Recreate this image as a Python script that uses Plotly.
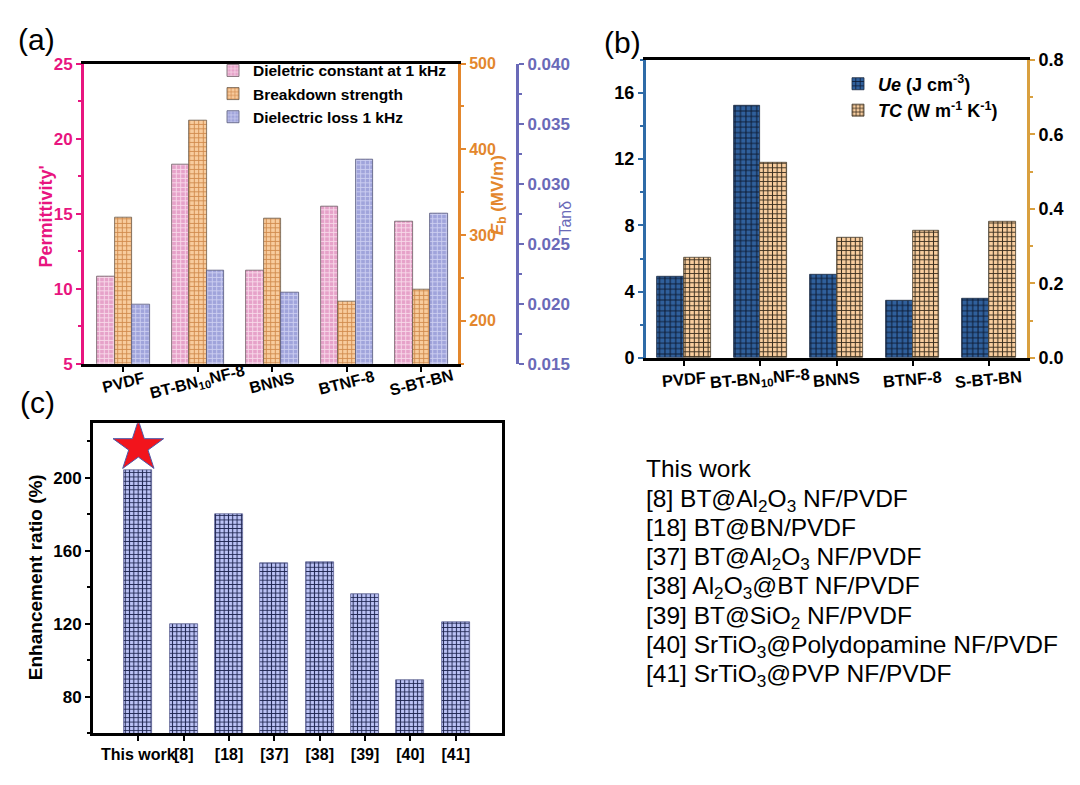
import plotly.graph_objects as go

# ---------------- data ----------------
cats_ab = ["PVDF", "BT-BN<sub>10</sub>NF-8", "BNNS", "BTNF-8", "S-BT-BN"]
permittivity = [10.8, 18.3, 11.2, 15.5, 14.5]
breakdown = [320, 433, 319, 223, 236]
tan_delta = [0.0199, 0.0228, 0.0209, 0.0320, 0.0275]
ue = [4.9, 15.2, 5.05, 3.45, 3.6]
tc = [0.270, 0.525, 0.322, 0.341, 0.366]
cats_c = ["This work", "[8]", "[18]", "[37]", "[38]", "[39]", "[40]", "[41]"]
ratio = [204, 120, 180, 153, 154, 136, 89, 121]
star_cat = ["This work"]
star_val = [217]
refs = [
    "This work",
    "[8] BT@Al<sub>2</sub>O<sub>3</sub> NF/PVDF",
    "[18] BT@BN/PVDF",
    "[37] BT@Al<sub>2</sub>O<sub>3</sub> NF/PVDF",
    "[38] Al<sub>2</sub>O<sub>3</sub>@BT NF/PVDF",
    "[39] BT@SiO<sub>2</sub> NF/PVDF",
    "[40] SrTiO<sub>3</sub>@Polydopamine NF/PVDF",
    "[41] SrTiO<sub>3</sub>@PVP NF/PVDF",
]

W, H = 1080, 785
FONT = "Arial, Liberation Sans, sans-serif"
MAG = "#E8157F"
ORA = "#E3872D"
PUR = "#6A6AB8"
BLU = "#2F6BA7"
ORB = "#D9A03F"


def px(x):
    return x / W


def py(y):
    return 1 - y / H


def bfont(size, color="black"):
    return dict(family=FONT, size=size, color=color, weight="bold")


def pat(bg, fg, size, lw=1.0):
    sol = 1 - (1 - lw / size) ** 2
    return dict(shape="+", bgcolor=bg, fgcolor=fg, size=size, solidity=sol, fillmode="replace")


fig = go.Figure()

# ---------------- panel (a) ----------------
wa = 0.7 / 3
fig.add_trace(go.Bar(x=cats_ab, y=permittivity, xaxis="x", yaxis="y", width=wa, offset=-0.35,
                     name="Dieletric constant at 1 kHz", legend="legend", legendgroup="a1",
                     marker=dict(color="#E9A6CC", pattern=pat("#E6A2C9", "#F8DAEA", 4.5, 0.9),
                                 line=dict(color="#6b5a62", width=0.8))))
fig.add_trace(go.Bar(x=cats_ab, y=breakdown, xaxis="x", yaxis="y2", width=wa, offset=-0.35 + wa,
                     name="Breakdown strength", legend="legend", legendgroup="a2",
                     marker=dict(color="#F7C99A", pattern=pat("#F8CC9E", "#D08A4C", 4.5, 0.9),
                                 line=dict(color="#6b5a4a", width=0.8))))
fig.add_trace(go.Bar(x=cats_ab, y=tan_delta, xaxis="x", yaxis="y3", width=wa, offset=-0.35 + 2 * wa,
                     name="Dielectric loss 1 kHz", legend="legend", legendgroup="a3",
                     marker=dict(color="#A3A6DC", pattern=pat("#A0A4DB", "#CDCFF1", 4.5, 0.9),
                                 line=dict(color="#55587a", width=0.8))))

# ---------------- panel (b) ----------------
fig.add_trace(go.Bar(x=cats_ab, y=ue, xaxis="x2", yaxis="y4", width=0.35, offset=-0.35,
                     name="<i>Ue</i> (J cm<sup>-3</sup>)", legend="legend2", legendgroup="b1",
                     marker=dict(color="#30609C", pattern=pat("#30609C", "#0E1B33", 5.4, 1.0),
                                 line=dict(color="#1a2a40", width=0.8))))
fig.add_trace(go.Bar(x=cats_ab, y=tc, xaxis="x2", yaxis="y5", width=0.35, offset=0,
                     name="<i>TC</i> (W m<sup>-1</sup> K<sup>-1</sup>)", legend="legend2", legendgroup="b2",
                     marker=dict(color="#F9CE9F", pattern=pat("#F9CE9F", "#3C3020", 4.6, 1.0),
                                 line=dict(color="#4a4030", width=0.8))))

# ---------------- panel (c) ----------------
fig.add_trace(go.Bar(x=cats_c, y=ratio, xaxis="x3", yaxis="y6", width=0.62, showlegend=False,
                     marker=dict(color="#BCC3F6", pattern=pat("#BCC3F6", "#1E2550", 4.3, 1.0),
                                 line=dict(color="#5a6090", width=0.8))))
fig.add_trace(go.Scatter(x=star_cat, y=star_val, xaxis="x3", yaxis="y6", mode="markers", showlegend=False,
                         marker=dict(symbol="star", size=38, color="#F2141C",
                                     line=dict(color="#4a58a8", width=1))))

common_x = dict(showline=True, linecolor="black", linewidth=3, mirror=True, ticks="outside",
                tickcolor="black", tickwidth=2, ticklen=5, showgrid=False, zeroline=False,
                type="category")


def yax(color, dtick, tick0, rng, minor_dtick, fmt=None, fontcolor=None, size=16):
    d = dict(showline=True, linecolor=color, linewidth=3, ticks="outside", tickcolor=color,
             tickwidth=2, ticklen=5, showgrid=False, zeroline=False, range=rng, tick0=tick0,
             dtick=dtick, tickfont=bfont(size, fontcolor or color),
             minor=dict(ticks="outside", ticklen=3, tickwidth=2, tickcolor=color, dtick=minor_dtick,
                        showgrid=False))
    if fmt:
        d["tickformat"] = fmt
    return d


layout = dict(
    width=W, height=H, autosize=False, margin=dict(l=0, r=0, t=0, b=0),
    paper_bgcolor="white", plot_bgcolor="white", barmode="overlay", bargap=0,
    font=dict(family=FONT, color="black"),
    xaxis=dict(common_x, domain=[px(84), px(458)], anchor="y", range=[-0.53, 4.49],
               showticklabels=False),
    yaxis=dict(yax(MAG, 5, 5, [5, 25], 2.5, size=17), domain=[py(363), py(55)], anchor="x"),
    yaxis2=dict(yax(ORA, 100, 200, [150, 500], 50, size=16), overlaying="y", side="right", anchor="x"),
    yaxis3=dict(yax(PUR, 0.005, 0.015, [0.015, 0.040], 0.0025, fmt=".3f", size=17), overlaying="y",
                side="right", anchor="free", position=px(517)),
    xaxis2=dict(common_x, domain=[px(646), px(1027)], anchor="y4", range=[-0.5, 4.5],
                showticklabels=False),
    yaxis4=dict(yax(BLU, 4, 0, [0, 18], 2, fontcolor="black", size=18), domain=[py(357), py(51)],
                anchor="x2"),
    yaxis5=dict(yax(ORB, 0.2, 0, [0, 0.8], 0.1, fmt=".1f", fontcolor="black", size=18), overlaying="y4",
                side="right", anchor="x2"),
    xaxis3=dict(common_x, domain=[px(93), px(502)], anchor="y6", range=[-1, 8.02], tickangle=0,
                tickfont=bfont(16)),
    yaxis6=dict(yax("black", 40, 80, [60, 230], 20, size=17), domain=[py(742), py(424)], anchor="x3",
                mirror=True),
    legend=dict(x=px(213), y=py(45), xanchor="left", yanchor="top", bgcolor="rgba(0,0,0,0)",
                font=bfont(15.5), tracegroupgap=0, itemwidth=30),
    legend2=dict(x=px(838), y=py(57), xanchor="left", yanchor="top", bgcolor="rgba(0,0,0,0)",
                 font=bfont(18), tracegroupgap=0, itemwidth=30),
)
fig.update_layout(**layout)

ann = []
# panel labels
for t, x, y in [("(a)", 16, 30), ("(b)", 602, 33), ("(c)", 18, 403)]:
    ann.append(dict(text=t, x=px(x), y=py(y), xref="paper", yref="paper", xanchor="left",
                    yanchor="middle", showarrow=False, font=dict(family=FONT, size=30, color="black")))
# axis titles
ann.append(dict(text="Permittivity'", x=px(46), y=py(212), xref="paper", yref="paper", textangle=-90,
                xanchor="center", yanchor="middle", showarrow=False, font=bfont(18, MAG)))
ann.append(dict(text="<i>E</i><sub>b</sub> (MV/m)", x=px(499), y=py(190), xref="paper", yref="paper",
                xanchor="center", yanchor="middle", textangle=-90, showarrow=False, font=bfont(17, ORA)))
ann.append(dict(text="Tanδ", x=px(566), y=py(214), xref="paper", yref="paper", textangle=-90,
                xanchor="center", yanchor="middle", showarrow=False,
                font=dict(family=FONT, size=16, color=PUR)))
ann.append(dict(text="Enhancement ratio (%)", x=px(35), y=py(582), xref="paper", yref="paper",
                xanchor="center", yanchor="middle", textangle=-90, showarrow=False, font=bfont(19)))
# category labels for panels (a) and (b), tilted like the original
for c in cats_ab:
    ann.append(dict(text=c, x=c, xref="x", y=py(382), yref="paper", xanchor="center", yanchor="middle",
                    textangle=-14, showarrow=False, font=bfont(16)))
    ann.append(dict(text=c, x=c, xref="x2", y=py(379), yref="paper", xanchor="center", yanchor="middle",
                    textangle=-5, showarrow=False, font=bfont(16.5)))
# reference list (top-anchored so subscripts do not shift the baselines)
for i, r in enumerate(refs):
    ann.append(dict(text=r, x=px(644), y=py(455 + 30 * i), xref="paper", yref="paper",
                    xanchor="left", yanchor="top", showarrow=False,
                    font=dict(family=FONT, size=24.5, color="black")))
fig.update_layout(annotations=ann)

fig.write_html("out.html")
